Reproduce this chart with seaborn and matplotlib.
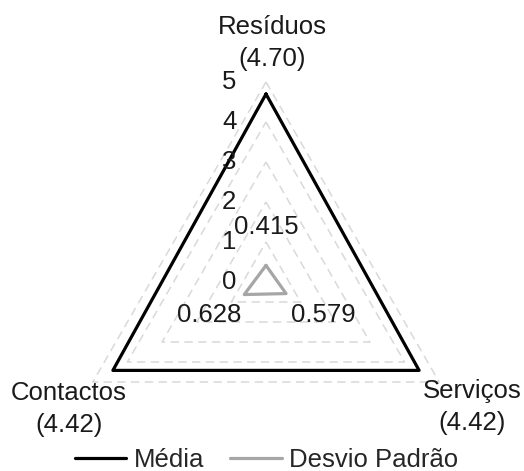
import numpy as np
import pandas as pd
import matplotlib
matplotlib.use("Agg")
import matplotlib.pyplot as plt
import seaborn as sns
from matplotlib.lines import Line2D

categories = ["Resíduos", "Serviços", "Contactos"]
media = [4.70, 4.42, 4.42]
desvio = [0.415, 0.579, 0.628]
levels = [0, 1, 2, 3, 4, 5]
series_names = ["Média", "Desvio Padrão"]

sns.set_theme(style="white")
plt.rcParams["font.family"] = ["Liberation Sans", "DejaVu Sans"]

angles = np.deg2rad([90, -30, 210])
FS = 18.5

fig = plt.figure(figsize=(5.24, 4.71), dpi=100)
ax = fig.add_axes([0, 0, 1, 1])
ax.set_xlim(-6.65, 6.45)
ax.set_ylim(-4.725, 7.05)
ax.set_aspect("equal")
ax.axis("off")


def poly(vals):
    v = list(vals) + [vals[0]]
    a = list(angles) + [angles[0]]
    return pd.DataFrame({"x": np.array(v) * np.cos(a), "y": np.array(v) * np.sin(a)})


# grid
for lv in levels[1:]:
    d = poly([lv] * 3)
    ax.plot(d["x"], d["y"], color="#d9d9d9", lw=1.1, ls=(0, (5.5, 3.5)), zorder=1)

dm = poly(media)
sns.lineplot(data=dm, x="x", y="y", sort=False, estimator=None, color="black",
             lw=2.3, ax=ax, zorder=3)
dd = poly(desvio)
sns.lineplot(data=dd, x="x", y="y", sort=False, estimator=None, color="#a6a6a6",
             lw=2.3, ax=ax, zorder=3)
ax.set_xlabel("")
ax.set_ylabel("")

# radial tick labels
for lv in levels:
    ax.text(-0.92, lv, str(lv), ha="center", va="center", fontsize=FS, color="#1a1a1a")

# std labels
lab_r = [1.38, 1.65, 1.65]
for a, v, r in zip(angles, desvio, lab_r):
    ax.text(r * np.cos(a), r * np.sin(a), f"{v:.3f}", ha="center", va="center",
            fontsize=FS, color="#1a1a1a")

# category labels (text anchor positions in axis units)
cat_pos = [(0.15, 5.97), (5.15, -3.13), (-4.93, -3.18)]
for (px, py), c, v in zip(cat_pos, categories, media):
    ax.text(px, py, f"{c}\n({v:.2f})", ha="center", va="center",
            fontsize=FS, color="#1a1a1a", linespacing=1.45)

handles = [Line2D([], [], color="black", lw=2.3), Line2D([], [], color="#a6a6a6", lw=2.3)]
fig.legend(handles, series_names, loc="center", bbox_to_anchor=(0.509, 0.023), ncol=2,
           frameon=False, fontsize=FS, handlelength=2.0, handletextpad=0.3, columnspacing=1.0,
           borderpad=0)

fig.savefig("out.png", dpi=100)
